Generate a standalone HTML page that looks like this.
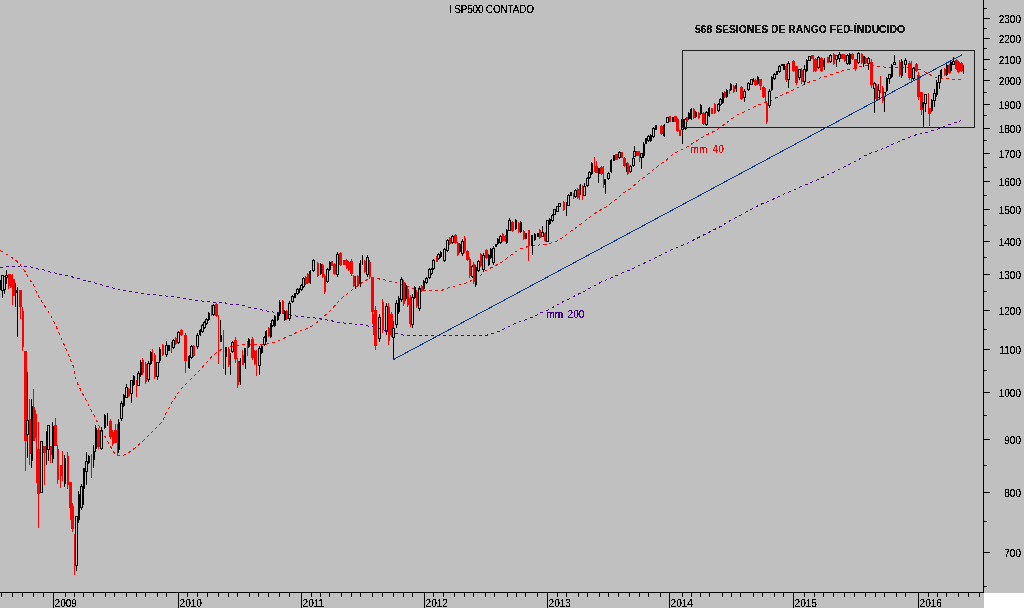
<!DOCTYPE html>
<html><head><meta charset="utf-8"><title>SP500 CONTADO</title>
<style>html,body{margin:0;padding:0;background:#c0c0c0;}body{width:1024px;height:608px;overflow:hidden;}svg{display:block;}</style>
</head><body>
<svg width="1024" height="608" viewBox="0 0 1024 608" shape-rendering="crispEdges">
<rect x="0" y="0" width="1024" height="608" fill="#c0c0c0"/>
<rect x="984" y="593" width="40" height="15" fill="#ffffff"/>
<polyline points="0.5,267.5 6.5,267.0 12.5,266.5 20.5,266.0 30.5,266.9 37.5,268.9 43.5,269.9 48.5,271.6 54.5,272.9 60.5,274.3 66.5,275.3 73.5,277.3 79.5,278.8 85.5,280.8 91.5,282.2 97.5,283.7 103.0,285.3 110.5,287.5 120.5,289.5 130.5,291.5 140.5,293.0 150.5,294.5 160.5,295.5 170.5,296.5 180.5,298.0 190.5,299.5 197.9,300.5 209.7,302.0 217.6,302.0 223.5,302.5 229.5,304.0 235.4,304.9 239.5,304.9 246.5,306.4 252.5,308.3 259.5,309.3 265.5,310.8 271.5,311.8 277.5,312.8 282.5,313.8 289.5,314.8 294.5,315.7 300.5,316.7 307.5,317.4 313.5,317.7 319.5,318.7 325.5,319.7 331.5,320.7 336.5,322.2 348.5,323.5 360.5,324.5 373.5,327.0 380.5,328.5 386.5,331.0 390.5,332.0 397.0,333.5 402.5,334.9 409.5,335.9 419.5,335.9 440.5,335.0 487.5,335.0 499.5,331.1 513.5,324.1 527.5,319.0 533.5,316.9 540.5,312.9 547.5,310.5 553.5,307.0 559.5,303.6 565.1,300.6 571.0,298.1 576.9,294.7 582.8,292.2 588.7,288.8 594.7,285.8 600.6,282.3 606.5,279.9 612.5,277.4 618.9,274.5 625.3,271.5 630.0,269.9 640.5,264.9 654.7,258.2 660.6,255.3 666.5,252.3 672.5,249.4 678.9,246.7 684.8,244.4 690.7,241.5 696.6,238.5 702.6,235.5 709.0,232.3 714.9,229.3 720.8,226.4 726.5,222.8 732.9,218.8 738.8,216.3 744.7,212.9 750.7,209.7 756.6,206.5 762.5,203.5 768.4,201.5 774.4,198.6 780.8,195.6 786.7,192.9 792.6,190.7 798.5,187.7 805.0,185.2 810.9,182.3 816.8,180.3 823.2,177.1 828.9,174.2 834.8,171.6 840.7,168.6 846.7,165.6 852.6,162.7 858.5,159.7 863.9,156.2 869.9,153.5 875.8,151.5 881.7,149.3 887.6,146.6 893.5,143.6 899.5,141.4 905.4,138.7 911.3,136.4 917.7,134.3 923.5,133.4 930.5,131.1 936.0,130.0 942.5,127.1 948.0,125.0 954.0,123.0 960.0,121.0 961.5,120.8" fill="none" stroke="#4b0088" stroke-width="1" stroke-dasharray="3 3"/>
<polyline points="0.5,250.5 5.5,253.5 12.5,258.0 18.3,262.5 23.2,268.5 27.2,275.3 30.1,280.3 34.1,286.2 37.0,293.1 40.0,299.0 43.9,304.9 47.9,310.9 51.3,316.8 53.8,321.7 57.5,329.5 60.0,335.5 62.5,341.5 65.5,347.5 68.0,353.5 70.5,359.5 73.0,365.5 76.5,381.5 80.5,389.5 83.5,395.5 86.5,401.2 89.5,406.5 92.5,413.1 95.5,417.5 98.5,425.3 102.5,433.2 105.5,437.2 108.5,443.1 111.8,449.0 115.2,454.4 117.7,455.9 121.7,455.9 127.1,453.9 133.0,449.5 138.9,444.6 144.9,439.1 150.8,433.2 156.7,427.3 162.6,421.4 165.1,414.8 168.5,408.9 171.5,402.9 175.5,397.0 179.5,391.1 184.5,385.2 190.8,379.3 200.5,369.5 211.7,356.8 218.6,350.8 225.5,347.9 231.5,346.4 236.5,345.9 240.5,345.0 260.5,344.9 266.5,344.1 272.5,342.9 278.5,340.9 284.5,338.0 290.5,335.5 296.5,332.5 302.5,330.1 308.5,328.1 314.5,324.6 320.5,319.2 326.5,314.3 332.5,308.3 337.5,302.8 342.5,297.5 349.5,292.0 355.5,287.5 358.5,284.9 366.5,280.0 375.5,278.5 383.5,279.5 390.5,281.5 396.5,282.9 404.5,284.9 411.5,287.9 419.5,289.9 425.5,290.8 434.5,290.8 440.5,290.8 448.5,287.7 455.5,285.8 462.5,284.3 469.5,281.8 473.5,278.8 480.5,275.4 484.5,271.5 491.5,267.5 497.5,264.5 503.5,261.1 509.5,256.1 515.5,251.7 520.8,248.7 527.2,246.8 534.1,245.8 540.1,244.8 546.0,244.3 551.9,242.8 557.8,240.8 563.7,236.9 569.7,232.0 575.6,228.0 581.5,223.6 587.4,219.1 593.4,214.2 599.3,210.7 604.7,207.8 610.5,203.5 617.0,198.7 623.9,192.8 629.9,188.9 636.8,182.9 642.7,178.5 648.6,173.6 654.5,169.1 660.5,164.2 666.9,159.7 672.1,154.7 679.0,150.8 684.9,148.3 690.8,144.4 696.8,140.9 702.7,137.0 708.6,134.0 714.5,131.0 721.5,126.6 727.4,122.2 733.3,117.7 738.0,114.5 744.2,111.8 750.1,108.8 757.0,105.4 762.9,103.4 768.9,101.4 775.8,97.9 781.7,95.0 787.6,92.5 793.5,89.6 799.5,86.6 804.9,84.1 811.3,81.2 815.5,80.1 822.4,77.1 828.3,75.6 834.3,73.7 840.2,71.7 846.1,69.7 852.0,68.7 857.0,67.3 860.9,66.3 867.8,65.8 876.7,66.1 882.6,66.8 888.5,67.7 894.5,67.3 900.5,67.1 905.5,67.1 911.5,67.5 916.3,68.3 919.5,69.5 924.2,71.4 930.5,75.0 936.8,77.8 943.2,78.1 948.7,78.9 955.0,79.9 961.3,79.9" fill="none" stroke="#ff0000" stroke-width="1" stroke-dasharray="3 3"/>
<path d="M0 280h1v10h-1zM0 281h1v8h-1z" fill="#000000"/>
<path d="M2 275h1v1h-1zM2 290h1v8h-1zM1 275h3v1h-3zM1 290h3v1h-3zM1 275h1v16h-1zM3 275h1v16h-1z" fill="#000000"/>
<path d="M4 276h1v1h-1zM4 289h1v5h-1zM3 276h3v1h-3zM3 289h3v1h-3zM3 276h1v14h-1zM5 276h1v14h-1z" fill="#000000"/>
<path d="M6 270h1v6h-1zM6 277h1v7h-1zM5 275h3v1h-3zM5 277h3v1h-3zM5 275h1v3h-1zM7 275h1v3h-1z" fill="#000000"/>
<path d="M8 274h1v15h-1zM8 274h2v12h-2z" fill="#ff0000"/>
<path d="M10 274h1v14h-1zM10 275h2v12h-2z" fill="#ff0000"/>
<path d="M12 274h1v31h-1zM12 274h1v6h-1z" fill="#ff0000"/>
<path d="M13 279h1v17h-1zM13 279h2v17h-2z" fill="#ff0000"/>
<path d="M15 283h1v24h-1zM15 290h2v3h-2z" fill="#000000"/>
<path d="M17 287h1v50h-1zM17 292h1v40h-1z" fill="#000000"/>
<path d="M20 290h1v29h-1zM19 290h3v17h-3z" fill="#ff0000"/>
<path d="M22 307h1v44h-1zM22 311h2v36h-2z" fill="#ff0000"/>
<path d="M25 351h1v120h-1zM24 351h3v90h-3z" fill="#ff0000"/>
<path d="M27 372h1v49h-1zM27 434h1v24h-1zM26 420h3v1h-3zM26 434h3v1h-3zM26 420h1v15h-1zM28 420h1v15h-1z" fill="#000000"/>
<path d="M29 399h1v66h-1zM29 419h2v35h-2z" fill="#ff0000"/>
<path d="M31 399h1v69h-1zM31 406h2v55h-2z" fill="#000000"/>
<path d="M33 389h1v52h-1zM33 394h1v42h-1z" fill="#ff0000"/>
<path d="M34 407h1v34h-1zM34 410h2v28h-2z" fill="#ff0000"/>
<path d="M36 414h1v69h-1zM36 421h1v55h-1z" fill="#ff0000"/>
<path d="M38 422h1v72h-1zM37 449h3v45h-3z" fill="#ff0000"/>
<path d="M38 449h1v79h-1zM38 457h1v63h-1z" fill="#ff0000"/>
<path d="M41 441h1v1h-1zM41 492h1v1h-1zM40 441h3v1h-3zM40 492h3v1h-3zM40 441h1v52h-1zM42 441h1v52h-1z" fill="#000000"/>
<path d="M44 446h1v39h-1zM43 446h3v7h-3z" fill="#ff0000"/>
<path d="M46 431h1v34h-1zM46 434h1v28h-1z" fill="#000000"/>
<path d="M48 425h1v1h-1zM48 449h1v12h-1zM47 425h3v1h-3zM47 449h3v1h-3zM47 425h1v25h-1zM49 425h1v25h-1z" fill="#000000"/>
<path d="M50 446h1v17h-1zM50 446h2v9h-2z" fill="#ff0000"/>
<path d="M52 422h1v41h-1zM52 426h2v33h-2z" fill="#000000"/>
<path d="M55 418h1v28h-1zM54 425h3v21h-3z" fill="#ff0000"/>
<path d="M57 445h1v39h-1zM57 449h2v31h-2z" fill="#ff0000"/>
<path d="M60 465h1v23h-1zM60 465h2v11h-2z" fill="#ff0000"/>
<path d="M62 451h1v30h-1zM62 454h1v24h-1z" fill="#ff0000"/>
<path d="M64 455h1v32h-1zM64 458h2v26h-2z" fill="#000000"/>
<path d="M67 452h1v37h-1zM67 456h2v29h-2z" fill="#ff0000"/>
<path d="M70 482h1v38h-1zM69 482h3v26h-3z" fill="#ff0000"/>
<path d="M72 503h1v29h-1zM71 506h3v23h-3z" fill="#ff0000"/>
<path d="M74 534h1v41h-1zM74 538h1v33h-1z" fill="#ff0000"/>
<path d="M76 516h1v1h-1zM76 565h1v6h-1zM75 516h3v1h-3zM75 565h3v1h-3zM75 516h1v50h-1zM77 516h1v50h-1z" fill="#000000"/>
<path d="M78 491h1v32h-1zM78 494h2v26h-2z" fill="#000000"/>
<path d="M81 484h1v3h-1zM81 507h1v3h-1zM80 486h3v1h-3zM80 507h3v1h-3zM80 486h1v22h-1zM82 486h1v22h-1z" fill="#000000"/>
<path d="M83 468h1v37h-1zM83 468h2v21h-2z" fill="#000000"/>
<path d="M86 452h1v10h-1zM86 471h1v14h-1zM85 461h3v1h-3zM85 471h3v1h-3zM85 461h1v11h-1zM87 461h1v11h-1z" fill="#000000"/>
<path d="M88 455h1v9h-1zM88 456h2v7h-2z" fill="#000000"/>
<path d="M91 454h1v24h-1zM91 456h1v20h-1z" fill="#ff0000"/>
<path d="M93 445h1v23h-1zM93 451h2v9h-2z" fill="#000000"/>
<path d="M95 425h1v27h-1zM95 428h2v21h-2z" fill="#000000"/>
<path d="M98 428h1v21h-1zM97 430h3v17h-3z" fill="#ff0000"/>
<path d="M101 427h1v4h-1zM101 448h1v2h-1zM100 430h3v1h-3zM100 448h3v1h-3zM100 430h1v19h-1zM102 430h1v19h-1z" fill="#000000"/>
<path d="M104 414h1v15h-1zM104 415h2v13h-2z" fill="#000000"/>
<path d="M107 413h1v13h-1zM107 414h1v11h-1z" fill="#000000"/>
<path d="M110 419h1v20h-1zM109 421h3v16h-3z" fill="#ff0000"/>
<path d="M112 430h1v16h-1zM112 432h2v12h-2z" fill="#ff0000"/>
<path d="M115 424h1v19h-1zM114 430h3v13h-3z" fill="#ff0000"/>
<path d="M117 424h1v32h-1zM117 427h1v26h-1z" fill="#ff0000"/>
<path d="M118 419h1v34h-1zM118 422h2v28h-2z" fill="#000000"/>
<path d="M121 401h1v3h-1zM121 418h1v3h-1zM120 403h3v1h-3zM120 418h3v1h-3zM120 403h1v16h-1zM122 403h1v16h-1z" fill="#000000"/>
<path d="M123 394h1v13h-1zM123 395h2v11h-2z" fill="#000000"/>
<path d="M126 384h1v4h-1zM126 397h1v1h-1zM125 387h3v1h-3zM125 397h3v1h-3zM125 387h1v11h-1zM127 387h1v11h-1z" fill="#000000"/>
<path d="M128 388h1v9h-1zM128 389h2v7h-2z" fill="#ff0000"/>
<path d="M131 380h1v1h-1zM131 393h1v10h-1zM130 380h3v1h-3zM130 393h3v1h-3zM130 380h1v14h-1zM132 380h1v14h-1z" fill="#000000"/>
<path d="M133 375h1v11h-1zM133 376h2v9h-2z" fill="#000000"/>
<path d="M136 380h1v17h-1zM136 380h1v6h-1z" fill="#ff0000"/>
<path d="M138 371h1v3h-1zM138 385h1v1h-1zM137 373h3v1h-3zM137 385h3v1h-3zM137 373h1v13h-1zM139 373h1v13h-1z" fill="#000000"/>
<path d="M140 360h1v17h-1zM140 362h2v13h-2z" fill="#000000"/>
<path d="M142 358h1v17h-1zM142 360h2v13h-2z" fill="#ff0000"/>
<path d="M145 362h1v22h-1zM145 364h2v18h-2z" fill="#ff0000"/>
<path d="M148 361h1v3h-1zM148 379h1v3h-1zM147 363h3v1h-3zM147 379h3v1h-3zM147 363h1v17h-1zM149 363h1v17h-1z" fill="#000000"/>
<path d="M150 351h1v14h-1zM150 352h2v12h-2z" fill="#000000"/>
<path d="M152 349h1v12h-1zM152 350h1v10h-1z" fill="#ff0000"/>
<path d="M154 353h1v26h-1zM154 355h2v22h-2z" fill="#ff0000"/>
<path d="M157 362h1v1h-1zM157 376h1v4h-1zM156 362h3v1h-3zM156 376h3v1h-3zM156 362h1v15h-1zM158 362h1v15h-1z" fill="#000000"/>
<path d="M159 347h1v16h-1zM159 349h2v12h-2z" fill="#000000"/>
<path d="M162 344h1v12h-1zM162 345h2v10h-2z" fill="#ff0000"/>
<path d="M166 341h1v5h-1zM166 354h1v3h-1zM165 345h3v1h-3zM165 354h3v1h-3zM165 345h1v10h-1zM167 345h1v10h-1z" fill="#000000"/>
<path d="M168 345h1v6h-1zM168 345h2v6h-2z" fill="#000000"/>
<path d="M171 342h1v11h-1zM171 343h1v9h-1z" fill="#ff0000"/>
<path d="M173 339h1v2h-1zM173 347h1v2h-1zM172 340h3v1h-3zM172 347h3v1h-3zM172 340h1v8h-1zM174 340h1v8h-1z" fill="#000000"/>
<path d="M175 337h1v8h-1zM175 338h2v6h-2z" fill="#ff0000"/>
<path d="M178 331h1v2h-1zM178 342h1v2h-1zM177 332h3v1h-3zM177 342h3v1h-3zM177 332h1v11h-1zM179 332h1v11h-1z" fill="#000000"/>
<path d="M181 329h1v7h-1zM180 330h3v5h-3z" fill="#ff0000"/>
<path d="M185 333h1v40h-1zM184 335h3v26h-3z" fill="#ff0000"/>
<path d="M189 355h1v14h-1zM188 356h2v12h-2z" fill="#000000"/>
<path d="M191 345h1v2h-1zM191 357h1v2h-1zM190 346h3v1h-3zM190 357h3v1h-3zM190 346h1v12h-1zM192 346h1v12h-1z" fill="#000000"/>
<path d="M193 345h1v12h-1zM193 346h2v10h-2z" fill="#ff0000"/>
<path d="M197 333h1v3h-1zM197 346h1v3h-1zM196 335h3v1h-3zM196 346h3v1h-3zM196 335h1v12h-1zM198 335h1v12h-1z" fill="#000000"/>
<path d="M200 329h1v7h-1zM199 330h2v5h-2z" fill="#000000"/>
<path d="M202 324h1v2h-1zM202 331h1v2h-1zM201 325h3v1h-3zM201 331h3v1h-3zM201 325h1v7h-1zM203 325h1v7h-1z" fill="#000000"/>
<path d="M204 321h1v2h-1zM204 327h1v2h-1zM203 322h3v1h-3zM203 327h3v1h-3zM203 322h1v6h-1zM205 322h1v6h-1z" fill="#000000"/>
<path d="M206 318h1v2h-1zM206 323h1v2h-1zM205 319h3v1h-3zM205 323h3v1h-3zM205 319h1v5h-1zM207 319h1v5h-1z" fill="#000000"/>
<path d="M208 312h1v9h-1zM208 313h2v7h-2z" fill="#000000"/>
<path d="M211 305h1v11h-1zM211 306h1v9h-1z" fill="#ff0000"/>
<path d="M213 304h1v2h-1zM213 314h1v2h-1zM212 305h3v1h-3zM212 314h3v1h-3zM212 305h1v10h-1zM214 305h1v10h-1z" fill="#000000"/>
<path d="M216 303h1v14h-1zM215 304h3v12h-3z" fill="#ff0000"/>
<path d="M218 315h1v49h-1zM218 315h1v30h-1z" fill="#ff0000"/>
<path d="M220 320h1v22h-1zM220 335h2v7h-2z" fill="#000000"/>
<path d="M223 330h1v39h-1zM223 335h1v21h-1z" fill="#ff0000"/>
<path d="M225 347h1v28h-1zM225 347h2v10h-2z" fill="#000000"/>
<path d="M228 347h1v20h-1zM228 349h2v16h-2z" fill="#ff0000"/>
<path d="M230 353h1v22h-1zM230 353h1v11h-1z" fill="#000000"/>
<path d="M232 341h1v2h-1zM232 351h1v2h-1zM231 342h3v1h-3zM231 351h3v1h-3zM231 342h1v10h-1zM233 342h1v10h-1z" fill="#000000"/>
<path d="M235 337h1v26h-1zM234 340h3v19h-3z" fill="#ff0000"/>
<path d="M237 358h1v30h-1zM237 361h2v24h-2z" fill="#ff0000"/>
<path d="M240 358h1v27h-1zM239 361h2v21h-2z" fill="#000000"/>
<path d="M242 350h1v15h-1zM242 355h2v10h-2z" fill="#ff0000"/>
<path d="M245 348h1v21h-1zM244 348h2v15h-2z" fill="#000000"/>
<path d="M247 341h1v15h-1zM247 342h1v13h-1z" fill="#ff0000"/>
<path d="M248 338h1v10h-1zM248 339h2v8h-2z" fill="#000000"/>
<path d="M252 337h1v23h-1zM251 339h3v19h-3z" fill="#ff0000"/>
<path d="M254 350h1v15h-1zM254 351h2v13h-2z" fill="#ff0000"/>
<path d="M256 350h1v26h-1zM256 352h1v22h-1z" fill="#ff0000"/>
<path d="M259 346h1v3h-1zM259 365h1v10h-1zM258 348h3v1h-3zM258 365h3v1h-3zM258 348h1v18h-1zM260 348h1v18h-1z" fill="#000000"/>
<path d="M261 345h1v9h-1zM261 346h2v7h-2z" fill="#000000"/>
<path d="M264 336h1v2h-1zM264 344h1v2h-1zM263 337h3v1h-3zM263 344h3v1h-3zM263 337h1v8h-1zM265 337h1v8h-1z" fill="#000000"/>
<path d="M266 330h1v12h-1zM265 331h2v10h-2z" fill="#000000"/>
<path d="M268 327h1v10h-1zM268 328h2v8h-2z" fill="#ff0000"/>
<path d="M270 323h1v15h-1zM270 324h2v13h-2z" fill="#000000"/>
<path d="M272 319h1v2h-1zM272 325h1v2h-1zM271 320h3v1h-3zM271 325h3v1h-3zM271 320h1v6h-1zM273 320h1v6h-1z" fill="#000000"/>
<path d="M274 315h1v12h-1zM274 316h2v10h-2z" fill="#000000"/>
<path d="M277 312h1v9h-1zM277 313h2v7h-2z" fill="#000000"/>
<path d="M279 300h1v16h-1zM279 302h2v12h-2z" fill="#000000"/>
<path d="M282 300h1v14h-1zM282 301h2v12h-2z" fill="#ff0000"/>
<path d="M284 310h1v11h-1zM284 311h2v9h-2z" fill="#000000"/>
<path d="M286 310h1v10h-1zM286 311h2v8h-2z" fill="#ff0000"/>
<path d="M289 301h1v3h-1zM289 318h1v3h-1zM288 303h3v1h-3zM288 318h3v1h-3zM288 303h1v16h-1zM290 303h1v16h-1z" fill="#000000"/>
<path d="M292 295h1v2h-1zM292 301h1v2h-1zM291 296h3v1h-3zM291 301h3v1h-3zM291 296h1v6h-1zM293 296h1v6h-1z" fill="#000000"/>
<path d="M294 293h1v5h-1zM294 293h2v5h-2z" fill="#000000"/>
<path d="M297 288h1v2h-1zM297 293h1v2h-1zM296 289h3v1h-3zM296 293h3v1h-3zM296 289h1v5h-1zM298 289h1v5h-1z" fill="#000000"/>
<path d="M299 288h1v5h-1zM299 288h1v5h-1z" fill="#000000"/>
<path d="M301 284h1v2h-1zM301 289h1v2h-1zM300 285h3v1h-3zM300 289h3v1h-3zM300 285h1v5h-1zM302 285h1v5h-1z" fill="#000000"/>
<path d="M303 277h1v2h-1zM303 286h1v2h-1zM302 278h3v1h-3zM302 286h3v1h-3zM302 278h1v9h-1zM304 278h1v9h-1z" fill="#000000"/>
<path d="M305 276h1v9h-1zM305 277h2v7h-2z" fill="#ff0000"/>
<path d="M307 273h1v11h-1zM307 274h2v9h-2z" fill="#ff0000"/>
<path d="M310 270h1v14h-1zM309 271h2v12h-2z" fill="#000000"/>
<path d="M313 259h1v2h-1zM313 270h1v2h-1zM312 260h3v1h-3zM312 270h3v1h-3zM312 260h1v11h-1zM314 260h1v11h-1z" fill="#000000"/>
<path d="M317 262h1v15h-1zM317 263h2v13h-2z" fill="#ff0000"/>
<path d="M320 263h1v12h-1zM320 264h2v10h-2z" fill="#000000"/>
<path d="M322 264h1v14h-1zM322 265h2v12h-2z" fill="#ff0000"/>
<path d="M324 274h1v20h-1zM324 276h2v16h-2z" fill="#ff0000"/>
<path d="M327 268h1v2h-1zM327 281h1v2h-1zM326 269h3v1h-3zM326 281h3v1h-3zM326 269h1v13h-1zM328 269h1v13h-1z" fill="#000000"/>
<path d="M329 261h1v10h-1zM329 262h2v8h-2z" fill="#000000"/>
<path d="M331 261h1v5h-1zM331 261h2v5h-2z" fill="#ff0000"/>
<path d="M334 263h1v12h-1zM333 264h3v10h-3z" fill="#ff0000"/>
<path d="M337 252h1v3h-1zM337 274h1v3h-1zM336 254h3v1h-3zM336 274h3v1h-3zM336 254h1v21h-1zM338 254h1v21h-1z" fill="#000000"/>
<path d="M340 252h1v14h-1zM339 253h3v12h-3z" fill="#ff0000"/>
<path d="M344 260h1v5h-1zM343 260h3v5h-3z" fill="#ff0000"/>
<path d="M346 259h1v10h-1zM346 260h2v8h-2z" fill="#ff0000"/>
<path d="M348 261h1v10h-1zM348 262h2v8h-2z" fill="#ff0000"/>
<path d="M351 259h1v17h-1zM350 261h3v13h-3z" fill="#ff0000"/>
<path d="M353 275h1v12h-1zM353 276h2v10h-2z" fill="#ff0000"/>
<path d="M355 276h1v13h-1zM355 277h1v11h-1z" fill="#000000"/>
<path d="M357 275h1v12h-1zM357 276h2v10h-2z" fill="#ff0000"/>
<path d="M360 260h1v27h-1zM359 263h2v21h-2z" fill="#000000"/>
<path d="M362 255h1v10h-1zM362 256h1v8h-1z" fill="#000000"/>
<path d="M364 260h1v13h-1zM364 261h2v11h-2z" fill="#ff0000"/>
<path d="M367 255h1v3h-1zM367 274h1v3h-1zM366 257h3v1h-3zM366 274h3v1h-3zM366 257h1v18h-1zM368 257h1v18h-1z" fill="#000000"/>
<path d="M369 260h1v19h-1zM369 262h2v15h-2z" fill="#ff0000"/>
<path d="M372 277h1v47h-1zM371 277h3v35h-3z" fill="#ff0000"/>
<path d="M374 311h1v27h-1zM373 314h3v21h-3z" fill="#ff0000"/>
<path d="M375 306h1v44h-1zM374 310h3v36h-3z" fill="#ff0000"/>
<path d="M379 314h1v4h-1zM379 338h1v4h-1zM378 317h3v1h-3zM378 338h3v1h-3zM378 317h1v22h-1zM380 317h1v22h-1z" fill="#000000"/>
<path d="M382 299h1v34h-1zM382 302h2v28h-2z" fill="#ff0000"/>
<path d="M386 303h1v4h-1zM386 331h1v4h-1zM385 306h3v1h-3zM385 331h3v1h-3zM385 306h1v26h-1zM387 306h1v26h-1z" fill="#000000"/>
<path d="M388 303h1v42h-1zM388 307h2v34h-2z" fill="#ff0000"/>
<path d="M391 312h1v25h-1zM390 314h3v21h-3z" fill="#ff0000"/>
<path d="M393 321h1v8h-1zM393 337h1v23h-1zM392 328h3v1h-3zM392 337h3v1h-3zM392 328h1v10h-1zM394 328h1v10h-1z" fill="#000000"/>
<path d="M396 300h1v4h-1zM396 324h1v4h-1zM395 303h3v1h-3zM395 324h3v1h-3zM395 303h1v22h-1zM397 303h1v22h-1z" fill="#000000"/>
<path d="M398 296h1v18h-1zM398 298h2v14h-2z" fill="#000000"/>
<path d="M401 277h1v3h-1zM401 299h1v3h-1zM400 279h3v1h-3zM400 299h3v1h-3zM400 279h1v21h-1zM402 279h1v21h-1z" fill="#000000"/>
<path d="M403 280h1v26h-1zM403 282h2v22h-2z" fill="#ff0000"/>
<path d="M405 283h1v18h-1zM405 285h2v14h-2z" fill="#000000"/>
<path d="M407 287h1v20h-1zM407 289h2v16h-2z" fill="#ff0000"/>
<path d="M410 295h1v32h-1zM409 298h3v26h-3z" fill="#ff0000"/>
<path d="M412 294h1v4h-1zM412 324h1v4h-1zM411 297h3v1h-3zM411 324h3v1h-3zM411 297h1v28h-1zM413 297h1v28h-1z" fill="#000000"/>
<path d="M414 286h1v13h-1zM414 287h2v11h-2z" fill="#000000"/>
<path d="M416 290h1v18h-1zM416 292h2v14h-2z" fill="#ff0000"/>
<path d="M419 286h1v3h-1zM419 308h1v3h-1zM418 288h3v1h-3zM418 308h3v1h-3zM418 288h1v21h-1zM420 288h1v21h-1z" fill="#000000"/>
<path d="M421 285h1v7h-1zM421 286h2v5h-2z" fill="#ff0000"/>
<path d="M423 280h1v10h-1zM423 281h2v8h-2z" fill="#000000"/>
<path d="M426 277h1v2h-1zM426 282h1v2h-1zM425 278h3v1h-3zM425 282h3v1h-3zM425 278h1v5h-1zM427 278h1v5h-1z" fill="#000000"/>
<path d="M429 268h1v2h-1zM429 277h1v2h-1zM428 269h3v1h-3zM428 277h3v1h-3zM428 269h1v9h-1zM430 269h1v9h-1z" fill="#000000"/>
<path d="M431 268h1v2h-1zM431 273h1v2h-1zM430 269h3v1h-3zM430 273h3v1h-3zM430 269h1v5h-1zM432 269h1v5h-1z" fill="#000000"/>
<path d="M433 259h1v2h-1zM433 268h1v2h-1zM432 260h3v1h-3zM432 268h3v1h-3zM432 260h1v9h-1zM434 260h1v9h-1z" fill="#000000"/>
<path d="M436 256h1v6h-1zM436 256h2v6h-2z" fill="#ff0000"/>
<path d="M438 253h1v2h-1zM438 258h1v2h-1zM437 254h3v1h-3zM437 258h3v1h-3zM437 254h1v5h-1zM439 254h1v5h-1z" fill="#000000"/>
<path d="M440 251h1v7h-1zM440 252h2v5h-2z" fill="#000000"/>
<path d="M444 248h1v2h-1zM444 260h1v2h-1zM443 249h3v1h-3zM443 260h3v1h-3zM443 249h1v12h-1zM445 249h1v12h-1z" fill="#000000"/>
<path d="M447 239h1v2h-1zM447 250h1v2h-1zM446 240h3v1h-3zM446 250h3v1h-3zM446 240h1v11h-1zM448 240h1v11h-1z" fill="#000000"/>
<path d="M449 237h1v8h-1zM449 238h2v6h-2z" fill="#ff0000"/>
<path d="M452 235h1v2h-1zM452 242h1v2h-1zM451 236h3v1h-3zM451 242h3v1h-3zM451 236h1v7h-1zM453 236h1v7h-1z" fill="#000000"/>
<path d="M455 234h1v10h-1zM454 235h3v8h-3z" fill="#ff0000"/>
<path d="M457 242h1v14h-1zM457 243h2v12h-2z" fill="#ff0000"/>
<path d="M459 243h1v10h-1zM459 244h2v8h-2z" fill="#000000"/>
<path d="M462 239h1v3h-1zM462 253h1v3h-1zM461 241h3v1h-3zM461 253h3v1h-3zM461 241h1v13h-1zM463 241h1v13h-1z" fill="#000000"/>
<path d="M464 236h1v17h-1zM464 238h2v13h-2z" fill="#ff0000"/>
<path d="M467 250h1v11h-1zM466 251h3v9h-3z" fill="#ff0000"/>
<path d="M469 257h1v21h-1zM469 259h2v17h-2z" fill="#ff0000"/>
<path d="M472 265h1v2h-1zM472 276h1v2h-1zM471 266h3v1h-3zM471 276h3v1h-3zM471 266h1v11h-1zM473 266h1v11h-1z" fill="#000000"/>
<path d="M473 262h1v22h-1zM473 264h2v18h-2z" fill="#ff0000"/>
<path d="M475 265h1v22h-1zM475 267h2v18h-2z" fill="#000000"/>
<path d="M478 260h1v2h-1zM478 270h1v2h-1zM477 261h3v1h-3zM477 270h3v1h-3zM477 261h1v10h-1zM479 261h1v10h-1z" fill="#000000"/>
<path d="M480 253h1v14h-1zM480 254h2v12h-2z" fill="#ff0000"/>
<path d="M483 253h1v3h-1zM483 269h1v3h-1zM482 255h3v1h-3zM482 269h3v1h-3zM482 255h1v15h-1zM484 255h1v15h-1z" fill="#000000"/>
<path d="M486 249h1v10h-1zM485 250h3v8h-3z" fill="#ff0000"/>
<path d="M488 254h1v12h-1zM488 255h2v10h-2z" fill="#000000"/>
<path d="M490 248h1v11h-1zM490 249h2v9h-2z" fill="#000000"/>
<path d="M493 246h1v3h-1zM493 262h1v3h-1zM492 248h3v1h-3zM492 262h3v1h-3zM492 248h1v15h-1zM494 248h1v15h-1z" fill="#000000"/>
<path d="M495 244h1v3h-1zM495 244h2v3h-2z" fill="#000000"/>
<path d="M497 238h1v7h-1zM497 239h2v5h-2z" fill="#000000"/>
<path d="M500 235h1v2h-1zM500 242h1v2h-1zM499 236h3v1h-3zM499 242h3v1h-3zM499 236h1v7h-1zM501 236h1v7h-1z" fill="#000000"/>
<path d="M502 233h1v9h-1zM502 234h2v7h-2z" fill="#ff0000"/>
<path d="M505 235h1v7h-1zM504 236h3v5h-3z" fill="#ff0000"/>
<path d="M506 229h1v15h-1zM506 230h2v13h-2z" fill="#000000"/>
<path d="M509 218h1v3h-1zM509 230h1v1h-1zM508 220h3v1h-3zM508 230h3v1h-3zM508 220h1v11h-1zM510 220h1v11h-1z" fill="#000000"/>
<path d="M512 221h1v11h-1zM511 222h3v9h-3z" fill="#ff0000"/>
<path d="M515 219h1v11h-1zM515 220h2v9h-2z" fill="#000000"/>
<path d="M518 222h1v11h-1zM518 223h2v9h-2z" fill="#ff0000"/>
<path d="M520 221h1v12h-1zM520 222h2v10h-2z" fill="#000000"/>
<path d="M523 230h1v10h-1zM523 231h2v8h-2z" fill="#ff0000"/>
<path d="M525 233h1v6h-1zM525 233h2v6h-2z" fill="#000000"/>
<path d="M528 230h1v31h-1zM528 230h2v16h-2z" fill="#ff0000"/>
<path d="M532 235h1v20h-1zM531 235h2v11h-2z" fill="#000000"/>
<path d="M534 233h1v8h-1zM534 234h2v6h-2z" fill="#000000"/>
<path d="M537 233h1v4h-1zM537 233h2v4h-2z" fill="#000000"/>
<path d="M539 229h1v10h-1zM539 230h2v8h-2z" fill="#ff0000"/>
<path d="M542 226h1v7h-1zM542 236h1v1h-1zM541 232h3v1h-3zM541 236h3v1h-3zM541 232h1v5h-1zM543 232h1v5h-1z" fill="#000000"/>
<path d="M545 232h1v10h-1zM544 233h3v8h-3z" fill="#ff0000"/>
<path d="M547 220h1v1h-1zM547 241h1v1h-1zM546 220h3v1h-3zM546 241h3v1h-3zM546 220h1v22h-1zM548 220h1v22h-1z" fill="#000000"/>
<path d="M549 218h1v7h-1zM549 219h2v5h-2z" fill="#000000"/>
<path d="M552 214h1v2h-1zM552 220h1v2h-1zM551 215h3v1h-3zM551 220h3v1h-3zM551 215h1v6h-1zM553 215h1v6h-1z" fill="#000000"/>
<path d="M554 209h1v1h-1zM554 214h1v1h-1zM553 209h3v1h-3zM553 214h3v1h-3zM553 209h1v6h-1zM555 209h1v6h-1z" fill="#000000"/>
<path d="M557 206h1v1h-1zM557 211h1v1h-1zM556 206h3v1h-3zM556 211h3v1h-3zM556 206h1v6h-1zM558 206h1v6h-1z" fill="#000000"/>
<path d="M559 203h1v1h-1zM559 206h1v1h-1zM558 203h3v1h-3zM558 206h3v1h-3zM558 203h1v4h-1zM560 203h1v4h-1z" fill="#000000"/>
<path d="M563 201h1v10h-1zM563 202h2v8h-2z" fill="#ff0000"/>
<path d="M566 202h1v14h-1zM566 203h1v12h-1z" fill="#000000"/>
<path d="M568 194h1v2h-1zM568 205h1v1h-1zM567 195h3v1h-3zM567 205h3v1h-3zM567 195h1v11h-1zM569 195h1v11h-1z" fill="#000000"/>
<path d="M570 192h1v4h-1zM570 192h2v4h-2z" fill="#000000"/>
<path d="M573 193h1v6h-1zM573 193h1v6h-1z" fill="#ff0000"/>
<path d="M575 189h1v2h-1zM575 196h1v2h-1zM574 190h3v1h-3zM574 196h3v1h-3zM574 190h1v7h-1zM576 190h1v7h-1z" fill="#000000"/>
<path d="M577 188h1v11h-1zM577 189h2v9h-2z" fill="#ff0000"/>
<path d="M579 185h1v15h-1zM579 186h1v13h-1z" fill="#ff0000"/>
<path d="M580 184h1v11h-1zM580 185h1v9h-1z" fill="#000000"/>
<path d="M582 185h1v15h-1zM582 186h1v13h-1z" fill="#ff0000"/>
<path d="M584 183h1v4h-1zM584 195h1v1h-1zM583 186h3v1h-3zM583 195h3v1h-3zM583 186h1v10h-1zM585 186h1v10h-1z" fill="#000000"/>
<path d="M587 177h1v2h-1zM587 185h1v2h-1zM586 178h3v1h-3zM586 185h3v1h-3zM586 178h1v8h-1zM588 178h1v8h-1z" fill="#000000"/>
<path d="M589 171h1v2h-1zM589 177h1v2h-1zM588 172h3v1h-3zM588 177h3v1h-3zM588 172h1v6h-1zM590 172h1v6h-1z" fill="#000000"/>
<path d="M591 162h1v13h-1zM591 163h2v11h-2z" fill="#000000"/>
<path d="M594 157h1v15h-1zM594 158h1v13h-1z" fill="#ff0000"/>
<path d="M596 161h1v12h-1zM595 166h3v7h-3z" fill="#ff0000"/>
<path d="M598 168h1v15h-1zM598 168h2v6h-2z" fill="#000000"/>
<path d="M601 166h1v9h-1zM600 167h3v7h-3z" fill="#ff0000"/>
<path d="M603 166h1v22h-1zM603 168h1v18h-1z" fill="#ff0000"/>
<path d="M605 179h1v15h-1zM604 179h2v6h-2z" fill="#000000"/>
<path d="M608 172h1v2h-1zM608 178h1v2h-1zM607 173h3v1h-3zM607 178h3v1h-3zM607 173h1v6h-1zM609 173h1v6h-1z" fill="#000000"/>
<path d="M611 159h1v14h-1zM610 160h2v12h-2z" fill="#000000"/>
<path d="M613 155h1v6h-1zM613 155h2v6h-2z" fill="#000000"/>
<path d="M616 154h1v6h-1zM615 154h3v6h-3z" fill="#ff0000"/>
<path d="M619 151h1v2h-1zM619 157h1v2h-1zM618 152h3v1h-3zM618 157h3v1h-3zM618 152h1v6h-1zM620 152h1v6h-1z" fill="#000000"/>
<path d="M621 152h1v6h-1zM621 152h2v6h-2z" fill="#ff0000"/>
<path d="M624 157h1v10h-1zM623 158h3v8h-3z" fill="#ff0000"/>
<path d="M626 163h1v9h-1zM626 164h1v7h-1z" fill="#000000"/>
<path d="M627 162h1v13h-1zM627 163h2v11h-2z" fill="#ff0000"/>
<path d="M630 165h1v2h-1zM630 171h1v2h-1zM629 166h3v1h-3zM629 171h3v1h-3zM629 166h1v6h-1zM631 166h1v6h-1z" fill="#000000"/>
<path d="M633 157h1v2h-1zM633 165h1v2h-1zM632 158h3v1h-3zM632 165h3v1h-3zM632 158h1v8h-1zM634 158h1v8h-1z" fill="#000000"/>
<path d="M634 146h1v6h-1zM634 156h1v1h-1zM633 151h3v1h-3zM633 156h3v1h-3zM633 151h1v6h-1zM635 151h1v6h-1z" fill="#000000"/>
<path d="M637 151h1v5h-1zM636 151h3v5h-3z" fill="#ff0000"/>
<path d="M639 151h1v11h-1zM639 152h1v9h-1z" fill="#ff0000"/>
<path d="M641 153h1v1h-1zM641 157h1v12h-1zM640 153h3v1h-3zM640 157h3v1h-3zM640 153h1v5h-1zM642 153h1v5h-1z" fill="#000000"/>
<path d="M643 142h1v16h-1zM643 144h2v12h-2z" fill="#000000"/>
<path d="M645 138h1v6h-1zM645 138h2v6h-2z" fill="#000000"/>
<path d="M648 135h1v2h-1zM648 140h1v2h-1zM647 136h3v1h-3zM647 140h3v1h-3zM647 136h1v5h-1zM649 136h1v5h-1z" fill="#000000"/>
<path d="M650 134h1v8h-1zM650 135h2v6h-2z" fill="#000000"/>
<path d="M653 127h1v2h-1zM653 136h1v2h-1zM652 128h3v1h-3zM652 136h3v1h-3zM652 128h1v9h-1zM654 128h1v9h-1z" fill="#000000"/>
<path d="M655 125h1v5h-1zM655 125h2v5h-2z" fill="#000000"/>
<path d="M661 125h1v10h-1zM660 126h3v8h-3z" fill="#ff0000"/>
<path d="M664 124h1v13h-1zM663 125h2v11h-2z" fill="#000000"/>
<path d="M667 117h1v1h-1zM667 122h1v1h-1zM666 117h3v1h-3zM666 122h3v1h-3zM666 117h1v6h-1zM668 117h1v6h-1z" fill="#000000"/>
<path d="M669 116h1v6h-1zM669 116h2v6h-2z" fill="#ff0000"/>
<path d="M672 117h1v5h-1zM672 117h2v5h-2z" fill="#000000"/>
<path d="M675 116h1v6h-1zM674 116h3v6h-3z" fill="#ff0000"/>
<path d="M677 118h1v14h-1zM676 119h3v12h-3z" fill="#ff0000"/>
<path d="M679 130h1v6h-1zM679 130h2v6h-2z" fill="#ff0000"/>
<path d="M682 117h1v3h-1zM682 129h1v15h-1zM681 119h3v1h-3zM681 129h3v1h-3zM681 119h1v11h-1zM683 119h1v11h-1z" fill="#000000"/>
<path d="M685 118h1v2h-1zM685 128h1v2h-1zM684 119h3v1h-3zM684 128h3v1h-3zM684 119h1v10h-1zM686 119h1v10h-1z" fill="#000000"/>
<path d="M686 117h1v5h-1zM686 117h2v5h-2z" fill="#ff0000"/>
<path d="M688 112h1v8h-1zM688 113h2v6h-2z" fill="#000000"/>
<path d="M691 108h1v12h-1zM690 109h2v10h-2z" fill="#000000"/>
<path d="M693 108h1v11h-1zM693 109h2v9h-2z" fill="#ff0000"/>
<path d="M695 111h1v7h-1zM695 112h2v5h-2z" fill="#000000"/>
<path d="M698 112h1v7h-1zM698 113h2v5h-2z" fill="#ff0000"/>
<path d="M700 104h1v11h-1zM700 105h2v9h-2z" fill="#000000"/>
<path d="M703 112h1v13h-1zM702 113h3v11h-3z" fill="#ff0000"/>
<path d="M706 111h1v2h-1zM706 124h1v2h-1zM705 112h3v1h-3zM705 124h3v1h-3zM705 112h1v13h-1zM707 112h1v13h-1z" fill="#000000"/>
<path d="M709 107h1v10h-1zM708 108h2v8h-2z" fill="#000000"/>
<path d="M711 108h1v6h-1zM711 108h2v6h-2z" fill="#ff0000"/>
<path d="M714 103h1v11h-1zM714 104h2v9h-2z" fill="#ff0000"/>
<path d="M718 103h1v2h-1zM718 110h1v2h-1zM717 104h3v1h-3zM717 110h3v1h-3zM717 104h1v7h-1zM719 104h1v7h-1z" fill="#000000"/>
<path d="M720 98h1v2h-1zM720 104h1v2h-1zM719 99h3v1h-3zM719 104h3v1h-3zM719 99h1v6h-1zM721 99h1v6h-1z" fill="#000000"/>
<path d="M722 92h1v12h-1zM722 93h2v10h-2z" fill="#000000"/>
<path d="M724 91h1v7h-1zM724 92h2v5h-2z" fill="#ff0000"/>
<path d="M726 89h1v9h-1zM726 90h2v7h-2z" fill="#000000"/>
<path d="M729 89h1v5h-1zM729 89h1v5h-1z" fill="#ff0000"/>
<path d="M730 83h1v8h-1zM730 84h2v6h-2z" fill="#000000"/>
<path d="M733 85h1v8h-1zM733 86h2v6h-2z" fill="#ff0000"/>
<path d="M736 83h1v9h-1zM735 85h2v4h-2z" fill="#000000"/>
<path d="M741 86h1v14h-1zM740 87h3v12h-3z" fill="#ff0000"/>
<path d="M744 89h1v3h-1zM744 97h1v5h-1zM743 91h3v1h-3zM743 97h3v1h-3zM743 91h1v7h-1zM745 91h1v7h-1z" fill="#000000"/>
<path d="M748 82h1v2h-1zM748 89h1v2h-1zM747 83h3v1h-3zM747 89h3v1h-3zM747 83h1v7h-1zM749 83h1v7h-1z" fill="#000000"/>
<path d="M751 79h1v1h-1zM751 84h1v1h-1zM750 79h3v1h-3zM750 84h3v1h-3zM750 79h1v6h-1zM752 79h1v6h-1z" fill="#000000"/>
<path d="M753 78h1v4h-1zM753 78h1v4h-1z" fill="#000000"/>
<path d="M755 79h1v7h-1zM754 80h3v5h-3z" fill="#ff0000"/>
<path d="M757 76h1v9h-1zM757 77h2v7h-2z" fill="#000000"/>
<path d="M760 79h1v11h-1zM759 79h3v7h-3z" fill="#ff0000"/>
<path d="M763 86h1v12h-1zM762 87h3v10h-3z" fill="#ff0000"/>
<path d="M765 88h1v15h-1zM765 89h1v13h-1z" fill="#ff0000"/>
<path d="M766 101h1v23h-1zM766 103h2v19h-2z" fill="#ff0000"/>
<path d="M769 89h1v3h-1zM769 105h1v3h-1zM768 91h3v1h-3zM768 105h3v1h-3zM768 91h1v15h-1zM770 91h1v15h-1z" fill="#000000"/>
<path d="M771 76h1v15h-1zM771 77h2v13h-2z" fill="#000000"/>
<path d="M774 73h1v2h-1zM774 78h1v2h-1zM773 74h3v1h-3zM773 78h3v1h-3zM773 74h1v5h-1zM775 74h1v5h-1z" fill="#000000"/>
<path d="M776 71h1v4h-1zM776 71h2v4h-2z" fill="#000000"/>
<path d="M779 65h1v2h-1zM779 71h1v2h-1zM778 66h3v1h-3zM778 71h3v1h-3zM778 66h1v6h-1zM780 66h1v6h-1z" fill="#000000"/>
<path d="M781 64h1v2h-1zM781 64h2v2h-2z" fill="#000000"/>
<path d="M783 64h1v6h-1zM783 64h2v6h-2z" fill="#000000"/>
<path d="M786 64h1v18h-1zM785 66h3v14h-3z" fill="#ff0000"/>
<path d="M788 61h1v3h-1zM788 79h1v9h-1zM787 63h3v1h-3zM787 79h3v1h-3zM787 63h1v17h-1zM789 63h1v17h-1z" fill="#000000"/>
<path d="M793 60h1v12h-1zM792 61h3v10h-3z" fill="#ff0000"/>
<path d="M796 66h1v19h-1zM795 66h3v17h-3z" fill="#ff0000"/>
<path d="M799 69h1v1h-1zM799 77h1v3h-1zM798 69h3v1h-3zM798 77h3v1h-3zM798 69h1v9h-1zM800 69h1v9h-1z" fill="#000000"/>
<path d="M801 68h1v16h-1zM801 70h2v12h-2z" fill="#ff0000"/>
<path d="M804 65h1v5h-1zM804 81h1v4h-1zM803 69h3v1h-3zM803 81h3v1h-3zM803 69h1v13h-1zM805 69h1v13h-1z" fill="#000000"/>
<path d="M806 59h1v13h-1zM806 60h2v11h-2z" fill="#000000"/>
<path d="M809 56h1v1h-1zM809 60h1v1h-1zM808 56h3v1h-3zM808 60h3v1h-3zM808 56h1v5h-1zM810 56h1v5h-1z" fill="#000000"/>
<path d="M812 55h1v4h-1zM811 55h3v4h-3z" fill="#ff0000"/>
<path d="M813 58h1v14h-1zM813 59h2v12h-2z" fill="#ff0000"/>
<path d="M815 58h1v14h-1zM815 59h2v12h-2z" fill="#ff0000"/>
<path d="M818 56h1v2h-1zM818 67h1v2h-1zM817 57h3v1h-3zM817 67h3v1h-3zM817 57h1v11h-1zM819 57h1v11h-1z" fill="#000000"/>
<path d="M821 57h1v15h-1zM820 58h3v13h-3z" fill="#ff0000"/>
<path d="M824 58h1v12h-1zM823 60h2v7h-2z" fill="#000000"/>
<path d="M827 57h1v6h-1zM827 57h2v6h-2z" fill="#ff0000"/>
<path d="M830 54h1v2h-1zM830 61h1v2h-1zM829 55h3v1h-3zM829 61h3v1h-3zM829 55h1v7h-1zM831 55h1v7h-1z" fill="#000000"/>
<path d="M833 53h1v12h-1zM833 54h2v10h-2z" fill="#ff0000"/>
<path d="M836 55h1v1h-1zM836 59h1v8h-1zM835 55h3v1h-3zM835 59h3v1h-3zM835 55h1v5h-1zM837 55h1v5h-1z" fill="#000000"/>
<path d="M839 52h1v3h-1zM839 58h1v4h-1zM838 54h3v1h-3zM838 58h3v1h-3zM838 54h1v5h-1zM840 54h1v5h-1z" fill="#000000"/>
<path d="M842 54h1v5h-1zM841 54h3v5h-3z" fill="#ff0000"/>
<path d="M844 54h1v8h-1zM844 55h2v6h-2z" fill="#ff0000"/>
<path d="M847 54h1v2h-1zM847 63h1v2h-1zM846 55h3v1h-3zM846 63h3v1h-3zM846 55h1v9h-1zM848 55h1v9h-1z" fill="#000000"/>
<path d="M849 53h1v12h-1zM849 54h2v10h-2z" fill="#000000"/>
<path d="M852 53h1v7h-1zM851 54h3v5h-3z" fill="#ff0000"/>
<path d="M855 59h1v12h-1zM854 59h3v10h-3z" fill="#ff0000"/>
<path d="M858 52h1v2h-1zM858 62h1v2h-1zM857 53h3v1h-3zM857 62h3v1h-3zM857 53h1v10h-1zM859 53h1v10h-1z" fill="#000000"/>
<path d="M861 53h1v11h-1zM861 54h2v9h-2z" fill="#ff0000"/>
<path d="M863 56h1v11h-1zM863 56h2v8h-2z" fill="#000000"/>
<path d="M865 57h1v7h-1zM865 58h2v5h-2z" fill="#ff0000"/>
<path d="M868 57h1v2h-1zM868 63h1v7h-1zM867 58h3v1h-3zM867 63h3v1h-3zM867 58h1v6h-1zM869 58h1v6h-1z" fill="#000000"/>
<path d="M871 59h1v29h-1zM870 62h3v23h-3z" fill="#ff0000"/>
<path d="M874 82h1v2h-1zM874 88h1v25h-1zM873 83h3v1h-3zM873 88h3v1h-3zM873 83h1v6h-1zM875 83h1v6h-1z" fill="#000000"/>
<path d="M876 84h1v17h-1zM875 86h3v13h-3z" fill="#ff0000"/>
<path d="M878 84h1v7h-1zM878 97h1v1h-1zM877 90h3v1h-3zM877 97h3v1h-3zM877 90h1v8h-1zM879 90h1v8h-1z" fill="#000000"/>
<path d="M880 76h1v17h-1zM880 78h1v13h-1z" fill="#ff0000"/>
<path d="M882 86h1v17h-1zM882 88h2v13h-2z" fill="#ff0000"/>
<path d="M884 92h1v1h-1zM884 96h1v16h-1zM883 92h3v1h-3zM883 96h3v1h-3zM883 92h1v5h-1zM885 92h1v5h-1z" fill="#000000"/>
<path d="M886 77h1v15h-1zM886 78h2v13h-2z" fill="#000000"/>
<path d="M889 74h1v1h-1zM889 78h1v6h-1zM888 74h3v1h-3zM888 78h3v1h-3zM888 74h1v5h-1zM890 74h1v5h-1z" fill="#000000"/>
<path d="M891 64h1v14h-1zM891 65h2v12h-2z" fill="#000000"/>
<path d="M894 55h1v8h-1zM894 64h1v1h-1zM893 62h3v1h-3zM893 64h3v1h-3zM893 62h1v3h-1zM895 62h1v3h-1z" fill="#000000"/>
<path d="M899 60h1v17h-1zM899 62h2v13h-2z" fill="#ff0000"/>
<path d="M901 59h1v19h-1zM901 61h2v15h-2z" fill="#000000"/>
<path d="M905 58h1v3h-1zM905 64h1v9h-1zM904 60h3v1h-3zM904 64h3v1h-3zM904 60h1v5h-1zM906 60h1v5h-1z" fill="#000000"/>
<path d="M909 61h1v19h-1zM908 63h3v15h-3z" fill="#ff0000"/>
<path d="M911 61h1v22h-1zM911 63h1v18h-1z" fill="#ff0000"/>
<path d="M913 67h1v2h-1zM913 78h1v2h-1zM912 68h3v1h-3zM912 78h3v1h-3zM912 68h1v11h-1zM914 68h1v11h-1z" fill="#000000"/>
<path d="M916 63h1v9h-1zM915 64h3v7h-3z" fill="#ff0000"/>
<path d="M918 72h1v28h-1zM917 75h3v22h-3z" fill="#ff0000"/>
<path d="M921 92h1v23h-1zM920 92h3v18h-3z" fill="#ff0000"/>
<path d="M923 102h1v25h-1zM922 102h2v6h-2z" fill="#000000"/>
<path d="M925 94h1v1h-1zM925 103h1v9h-1zM924 94h3v1h-3zM924 103h3v1h-3zM924 94h1v10h-1zM926 94h1v10h-1z" fill="#000000"/>
<path d="M928 93h1v17h-1zM928 95h1v13h-1z" fill="#ff0000"/>
<path d="M929 108h1v18h-1zM928 108h3v6h-3z" fill="#ff0000"/>
<path d="M931 99h1v13h-1zM931 100h2v11h-2z" fill="#000000"/>
<path d="M934 89h1v5h-1zM934 100h1v7h-1zM933 93h3v1h-3zM933 100h3v1h-3zM933 93h1v8h-1zM935 93h1v8h-1z" fill="#000000"/>
<path d="M936 80h1v17h-1zM936 82h2v13h-2z" fill="#000000"/>
<path d="M939 75h1v1h-1zM939 82h1v7h-1zM938 75h3v1h-3zM938 82h3v1h-3zM938 75h1v8h-1zM940 75h1v8h-1z" fill="#000000"/>
<path d="M941 69h1v9h-1zM940 70h2v7h-2z" fill="#000000"/>
<path d="M944 68h1v8h-1zM944 69h2v6h-2z" fill="#ff0000"/>
<path d="M946 64h1v12h-1zM946 65h2v10h-2z" fill="#000000"/>
<path d="M949 64h1v10h-1zM948 65h3v8h-3z" fill="#ff0000"/>
<path d="M950 61h1v11h-1zM950 62h2v9h-2z" fill="#000000"/>
<path d="M953 57h1v5h-1zM953 64h1v1h-1zM952 61h3v1h-3zM952 64h3v1h-3zM952 61h1v4h-1zM954 61h1v4h-1z" fill="#000000"/>
<path d="M956 59h1v11h-1zM955 60h3v9h-3z" fill="#ff0000"/>
<path d="M958 61h1v12h-1zM957 62h3v10h-3z" fill="#ff0000"/>
<path d="M961 62h1v10h-1zM960 63h3v8h-3z" fill="#ff0000"/>
<path d="M963 65h1v9h-1zM963 66h1v7h-1z" fill="#000000"/>
<line x1="393.5" y1="359.5" x2="962.5" y2="54.5" stroke="#0b3c8c" stroke-width="1"/>
<rect x="682.5" y="50.5" width="292" height="77" fill="none" stroke="#202020" stroke-width="1"/>
<rect x="983" y="0" width="1" height="593" fill="#000000"/>
<rect x="0" y="592" width="984" height="1" fill="#000000"/>
<path d="M1 593h1v4h-1zM12 593h1v4h-1zM22 593h1v4h-1zM33 593h1v4h-1zM43 593h1v4h-1zM65 593h1v4h-1zM74 593h1v4h-1zM83 593h1v4h-1zM93 593h1v4h-1zM105 593h1v4h-1zM114 593h1v4h-1zM126 593h1v4h-1zM136 593h1v4h-1zM145 593h1v4h-1zM157 593h1v4h-1zM166 593h1v4h-1zM187 593h1v4h-1zM197 593h1v4h-1zM207 593h1v4h-1zM218 593h1v4h-1zM228 593h1v4h-1zM237 593h1v4h-1zM249 593h1v4h-1zM258 593h1v4h-1zM268 593h1v4h-1zM279 593h1v4h-1zM289 593h1v4h-1zM311 593h1v4h-1zM320 593h1v4h-1zM329 593h1v4h-1zM341 593h1v4h-1zM351 593h1v4h-1zM360 593h1v4h-1zM372 593h1v4h-1zM382 593h1v4h-1zM393 593h1v4h-1zM403 593h1v4h-1zM412 593h1v4h-1zM433 593h1v4h-1zM443 593h1v4h-1zM454 593h1v4h-1zM464 593h1v4h-1zM473 593h1v4h-1zM485 593h1v4h-1zM494 593h1v4h-1zM507 593h1v4h-1zM516 593h1v4h-1zM525 593h1v4h-1zM537 593h1v4h-1zM557 593h1v4h-1zM566 593h1v4h-1zM578 593h1v4h-1zM587 593h1v4h-1zM599 593h1v4h-1zM608 593h1v4h-1zM618 593h1v4h-1zM629 593h1v4h-1zM639 593h1v4h-1zM648 593h1v4h-1zM660 593h1v4h-1zM682 593h1v4h-1zM691 593h1v4h-1zM700 593h1v4h-1zM709 593h1v4h-1zM722 593h1v4h-1zM731 593h1v4h-1zM740 593h1v4h-1zM753 593h1v4h-1zM762 593h1v4h-1zM774 593h1v4h-1zM783 593h1v4h-1zM804 593h1v4h-1zM814 593h1v4h-1zM823 593h1v4h-1zM833 593h1v4h-1zM844 593h1v4h-1zM854 593h1v4h-1zM865 593h1v4h-1zM875 593h1v4h-1zM884 593h1v4h-1zM896 593h1v4h-1zM905 593h1v4h-1zM928 593h1v4h-1zM937 593h1v4h-1zM946 593h1v4h-1zM958 593h1v4h-1zM968 593h1v4h-1zM979 593h1v4h-1zM53 593h1v15h-1zM178 593h1v15h-1zM301 593h1v15h-1zM424 593h1v15h-1zM547 593h1v15h-1zM669 593h1v15h-1zM793 593h1v15h-1zM918 593h1v15h-1zM984 586h3v1h-3zM984 552h6v1h-6zM984 521h3v1h-3zM984 492h6v1h-6zM984 465h3v1h-3zM984 439h6v1h-6zM984 415h3v1h-3zM984 392h6v1h-6zM984 370h3v1h-3zM984 349h6v1h-6zM984 329h3v1h-3zM984 310h6v1h-6zM984 291h3v1h-3zM984 274h6v1h-6zM984 257h3v1h-3zM984 241h6v1h-6zM984 225h3v1h-3zM984 209h6v1h-6zM984 195h3v1h-3zM984 181h6v1h-6zM984 167h3v1h-3zM984 153h6v1h-6zM984 140h3v1h-3zM984 128h6v1h-6zM984 115h3v1h-3zM984 104h6v1h-6zM984 92h3v1h-3zM984 80h6v1h-6zM984 69h3v1h-3zM984 59h6v1h-6zM984 48h3v1h-3zM984 38h6v1h-6zM984 28h3v1h-3zM984 18h6v1h-6zM984 8h3v1h-3z" fill="#000000"/>
<defs><filter id="crisp" x="0" y="0" width="100%" height="100%" color-interpolation-filters="sRGB"><feComponentTransfer><feFuncA type="discrete" tableValues="0 1 1"/></feComponentTransfer></filter></defs>
<g shape-rendering="auto" filter="url(#crisp)"><text x="54.6" y="607.4" font-size="10" font-family="Liberation Sans, sans-serif">2009</text><text x="179.6" y="607.4" font-size="10" font-family="Liberation Sans, sans-serif">2010</text><text x="302.6" y="607.4" font-size="10" font-family="Liberation Sans, sans-serif">2011</text><text x="425.6" y="607.4" font-size="10" font-family="Liberation Sans, sans-serif">2012</text><text x="548.6" y="607.4" font-size="10" font-family="Liberation Sans, sans-serif">2013</text><text x="670.6" y="607.4" font-size="10" font-family="Liberation Sans, sans-serif">2014</text><text x="794.6" y="607.4" font-size="10" font-family="Liberation Sans, sans-serif">2015</text><text x="919.6" y="607.4" font-size="10" font-family="Liberation Sans, sans-serif">2016</text><text x="1021" y="557" font-size="10" font-family="Liberation Sans, sans-serif" text-anchor="end">700</text><text x="1021" y="497" font-size="10" font-family="Liberation Sans, sans-serif" text-anchor="end">800</text><text x="1021" y="444" font-size="10" font-family="Liberation Sans, sans-serif" text-anchor="end">900</text><text x="1021" y="397" font-size="10" font-family="Liberation Sans, sans-serif" text-anchor="end">1000</text><text x="1021" y="354" font-size="10" font-family="Liberation Sans, sans-serif" text-anchor="end">1100</text><text x="1021" y="315" font-size="10" font-family="Liberation Sans, sans-serif" text-anchor="end">1200</text><text x="1021" y="279" font-size="10" font-family="Liberation Sans, sans-serif" text-anchor="end">1300</text><text x="1021" y="246" font-size="10" font-family="Liberation Sans, sans-serif" text-anchor="end">1400</text><text x="1021" y="214" font-size="10" font-family="Liberation Sans, sans-serif" text-anchor="end">1500</text><text x="1021" y="186" font-size="10" font-family="Liberation Sans, sans-serif" text-anchor="end">1600</text><text x="1021" y="158" font-size="10" font-family="Liberation Sans, sans-serif" text-anchor="end">1700</text><text x="1021" y="133" font-size="10" font-family="Liberation Sans, sans-serif" text-anchor="end">1800</text><text x="1021" y="109" font-size="10" font-family="Liberation Sans, sans-serif" text-anchor="end">1900</text><text x="1021" y="85" font-size="10" font-family="Liberation Sans, sans-serif" text-anchor="end">2000</text><text x="1021" y="64" font-size="10" font-family="Liberation Sans, sans-serif" text-anchor="end">2100</text><text x="1021" y="43" font-size="10" font-family="Liberation Sans, sans-serif" text-anchor="end">2200</text><text x="1021" y="23" font-size="10" font-family="Liberation Sans, sans-serif" text-anchor="end">2300</text><text x="449" y="13" font-size="10" font-family="Liberation Sans, sans-serif" textLength="85" lengthAdjust="spacing">I SP500 CONTADO</text><text x="695" y="33" font-size="11" font-weight="bold" font-family="Liberation Sans, sans-serif" fill="#141414" textLength="210" lengthAdjust="spacingAndGlyphs">568 SESIONES DE RANGO FED-ÍNDUCIDO</text><text y="153" font-size="10" font-family="Liberation Sans, sans-serif" fill="#ff0000"><tspan x="690.6">mm</tspan><tspan x="712.6">40</tspan></text><text y="318" font-size="10" font-family="Liberation Sans, sans-serif" fill="#4b0088"><tspan x="546.4">mm</tspan><tspan x="567.6">200</tspan></text></g>
</svg>
</body></html>
